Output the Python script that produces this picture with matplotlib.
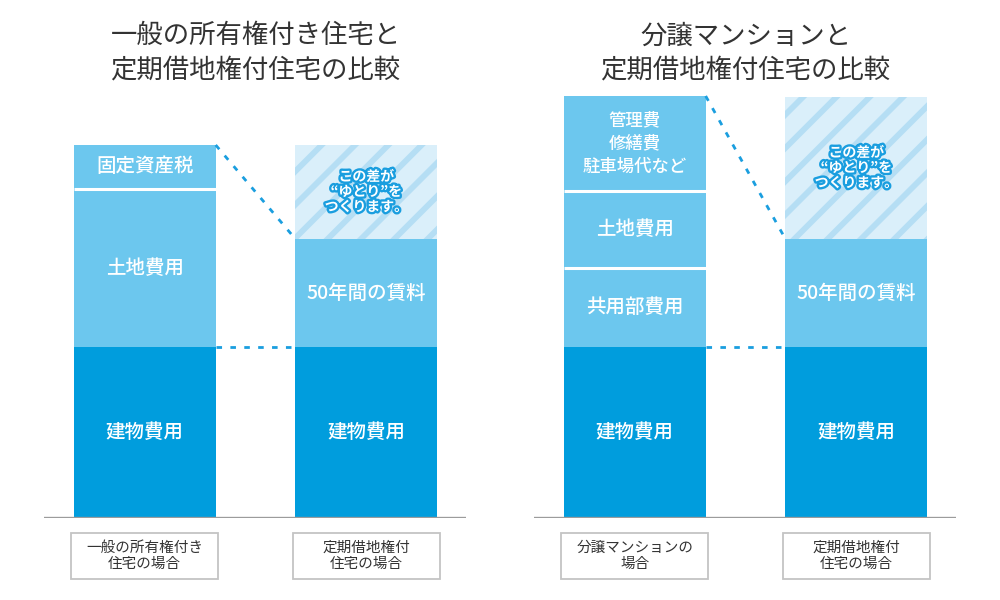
import matplotlib
matplotlib.use("Agg")
import matplotlib.pyplot as plt
import matplotlib.patheffects as pe
from matplotlib.patches import Rectangle

plt.rcParams['font.family'] = ['Noto Sans CJK JP', 'DejaVu Sans']
plt.rcParams['hatch.linewidth'] = 4.2

# ---- data (heights in chart units, stacked bottom -> top) ----
left_title = "一般の所有権付き住宅と\n定期借地権付住宅の比較"
left_cats = ["一般の所有権付き\n住宅の場合", "定期借地権付\n住宅の場合"]
left_bar1_labels = ["建物費用", "土地費用", "固定資産税"]
left_bar1_values = [171, 158, 44]
left_bar2_labels = ["建物費用", "50年間の賃料", "この差が\n“ゆとり”を\nつくります。"]
left_bar2_values = [171, 108, 94]

right_title = "分譲マンションと\n定期借地権付住宅の比較"
right_cats = ["分譲マンションの\n場合", "定期借地権付\n住宅の場合"]
right_bar1_labels = ["建物費用", "共用部費用", "土地費用", "管理費\n修繕費\n駐車場代など"]
right_bar1_values = [171, 79, 77, 95]
right_bar2_labels = ["建物費用", "50年間の賃料", "この差が\n“ゆとり”を\nつくります。"]
right_bar2_values = [171, 108, 142]

DARK = "#009ddd"
LIGHT = "#6cc7ee"
STRIPE_BG = "#daeffa"
STRIPE = "#b5def4"
DOT = "#1a9edf"
TEXT = "#333333"
W = 0.64


def stack(ax, x, values, labels, last_is_diff=False):
    bottom = 0
    n = len(values)
    for i, (v, lab) in enumerate(zip(values, labels)):
        diff = last_is_diff and i == n - 1
        if diff:
            ax.bar(x, v, bottom=bottom, width=W, color=STRIPE_BG, edgecolor=STRIPE,
                   hatch='/', linewidth=0)
            ax.text(x, bottom + v / 2, lab, ha='center', va='center', color='white',
                    fontsize=10, fontweight='bold', linespacing=1.1,
                    path_effects=[pe.withStroke(linewidth=3.4, foreground=DOT)])
        else:
            col = DARK if i == 0 else LIGHT
            ax.bar(x, v, bottom=bottom, width=W, color=col, linewidth=0)
            fs = 12.5 if "\n" in lab else 14
            ax.text(x, bottom + v / 2, lab, ha='center', va='center', color='white',
                    fontsize=fs, fontweight='medium', linespacing=1.35)
            if i > 0 and i < n - 1 and not (last_is_diff and i == n - 2):
                ax.hlines(bottom + v, x - W / 2, x + W / 2, color='white', lw=2.2)
        bottom += v


def panel(ax, title, cats, v1, l1, v2, l2):
    ax.set_xlim(-0.455, 1.45)
    ax.set_ylim(0, 438)
    ax.axis('off')
    ax.axhline(0, color='#9c9c9c', lw=2.4, zorder=5)
    stack(ax, 0, v1, l1)
    stack(ax, 1, v2, l2, last_is_diff=True)
    # dotted guide lines
    ax.plot([W / 2, 1 - W / 2], [v1[0], v2[0]], ls=(0, (2, 3)), color=DOT, lw=2)
    ax.plot([W / 2, 1 - W / 2], [sum(v1), sum(v2[:-1])], ls=(0, (2, 3)), color=DOT, lw=2)
    # category boxes
    bw = 0.665
    for x, c in zip([0, 1], cats):
        ax.add_patch(Rectangle((x - bw / 2, -61), bw, 46, fill=False, edgecolor='#c4c4c4',
                               lw=1.3, clip_on=False))
        ax.text(x, -38, c, ha='center', va='center', color=TEXT, fontsize=10.5,
                linespacing=1.25, clip_on=False)
    ax.text(0.5, 465, title, ha='center', va='center', color=TEXT, fontsize=19,
            linespacing=1.35, clip_on=False)


fig = plt.figure(figsize=(10, 6), dpi=100)
ax1 = fig.add_axes([0.044, 82 / 600, 0.422, 438 / 600])
ax2 = fig.add_axes([0.534, 82 / 600, 0.422, 438 / 600])
panel(ax1, left_title, left_cats, left_bar1_values, left_bar1_labels,
      left_bar2_values, left_bar2_labels)
panel(ax2, right_title, right_cats, right_bar1_values, right_bar1_labels,
      right_bar2_values, right_bar2_labels)

fig.savefig("out.png", dpi=100)
